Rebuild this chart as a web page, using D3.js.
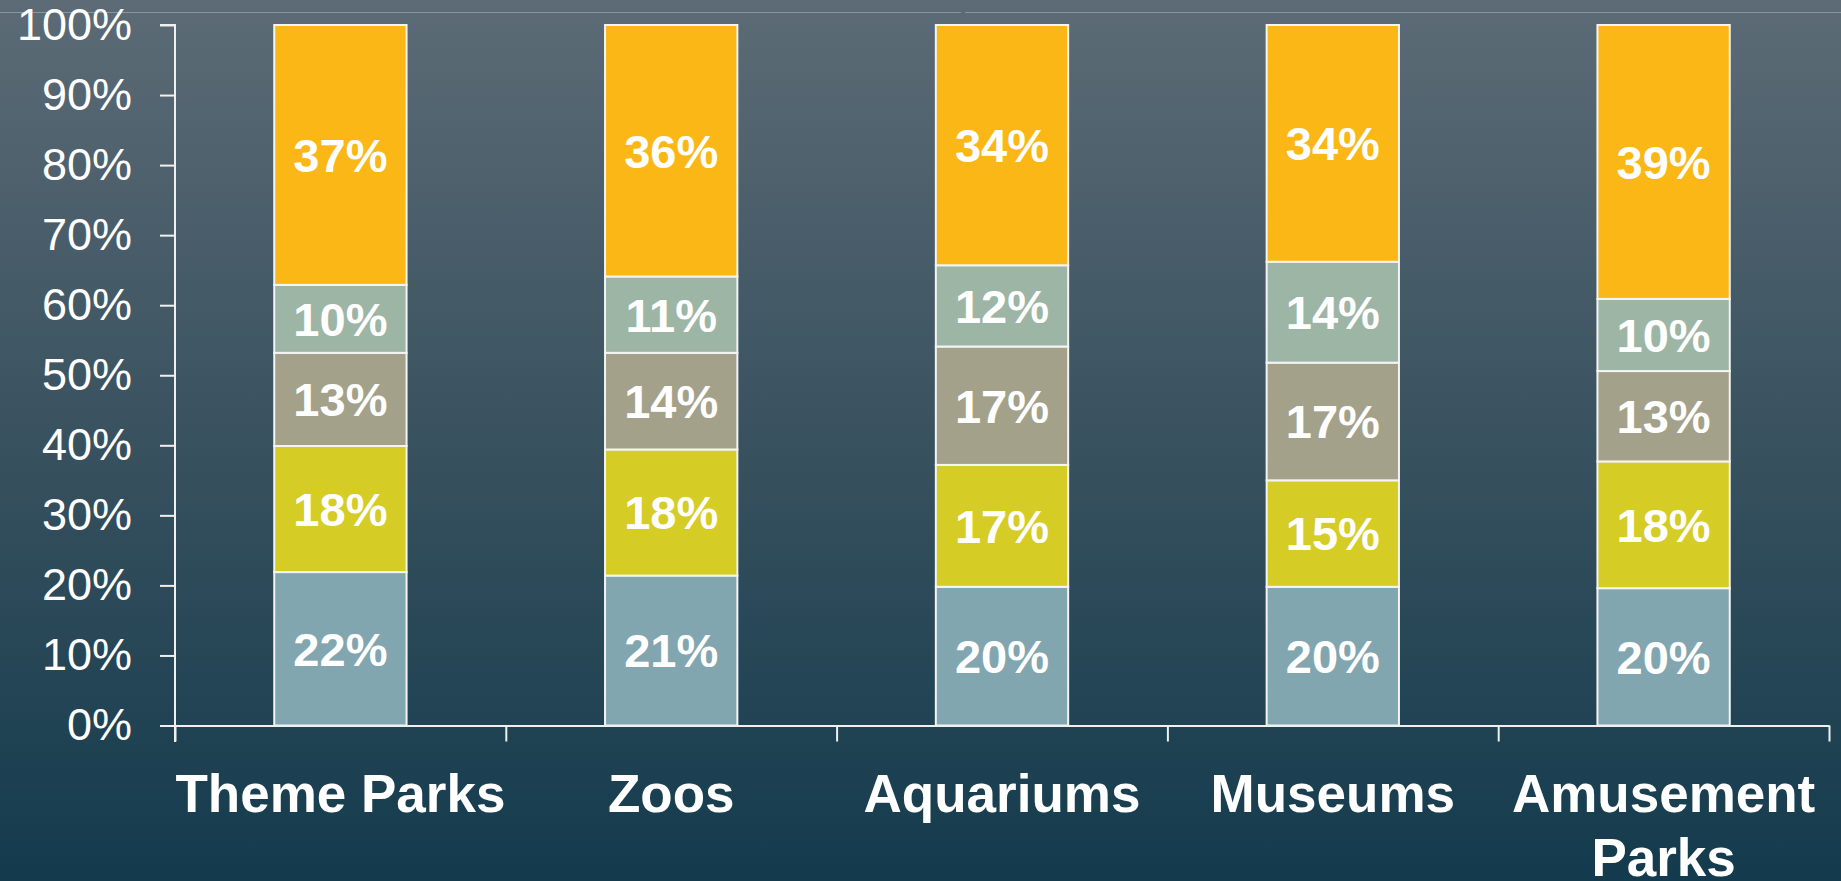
<!DOCTYPE html>
<html>
<head>
<meta charset="utf-8">
<script src="https://cdn.jsdelivr.net/npm/d3@7"></script>
<style>
    html, body { margin: 0; padding: 0; overflow: hidden; }
    body { width: 1841px; height: 881px; }
    svg { display: block; font-family: "Liberation Sans", Arial, sans-serif; }
</style>
</head>
<body>
<div id="chart"></div>
<script>
// categories and stacked shares (percent), bottom to top
const categories = ['Theme Parks', 'Zoos', 'Aquariums', 'Museums', 'Amusement Parks'];
const seriesKeys = ['s1', 's2', 's3', 's4', 's5'];
const s1 = [21.9, 21.4, 19.8, 19.8, 19.6];
const s2 = [18.0, 18.0, 17.4, 15.2, 18.1];
const s3 = [13.3, 13.8, 16.9, 16.8, 12.9];
const s4 = [9.7, 10.9, 11.6, 14.4, 10.3];
const s5 = [37.1, 35.9, 34.3, 33.8, 39.1];
const yTicks = [0, 10, 20, 30, 40, 50, 60, 70, 80, 90, 100];

const colors = {
    s1: '#82a6b0',
    s2: '#d6cc26',
    s3: '#a4a18a',
    s4: '#9db5a5',
    s5: '#fbb715'
};

const width = 1841;
const height = 881;
const margin = { top: 25, right: 12, bottom: 155, left: 175 };

const data = categories.map((c, i) => ({
    category: c, s1: s1[i], s2: s2[i], s3: s3[i], s4: s4[i], s5: s5[i]
}));

const svg = d3.select('#chart')
    .append('svg')
    .attr('width', width)
    .attr('height', height);

// background gradient
const defs = svg.append('defs');
const grad = defs.append('linearGradient')
    .attr('id', 'bg')
    .attr('x1', 0).attr('y1', 0).attr('x2', 0).attr('y2', 1);
grad.append('stop').attr('offset', '0%').attr('stop-color', '#5c6b76');
grad.append('stop').attr('offset', '55%').attr('stop-color', '#354f5d');
grad.append('stop').attr('offset', '100%').attr('stop-color', '#133b4d');

svg.append('rect')
    .attr('width', width)
    .attr('height', height)
    .attr('fill', 'url(#bg)');

// faint rule near the top
svg.append('line')
    .attr('x1', 0).attr('x2', 961).attr('y1', 12.5).attr('y2', 12.5)
    .attr('stroke', '#8a969e').attr('stroke-width', 1);
svg.append('line')
    .attr('x1', 965).attr('x2', width).attr('y1', 12.5).attr('y2', 12.5)
    .attr('stroke', '#8a969e').attr('stroke-width', 1);

const plotRight = 1829;
const plotBottom = 725.5;

const x = d3.scaleBand()
    .domain(categories)
    .range([margin.left, plotRight])
    .padding(0);

const xEdges = d3.scaleLinear()
    .domain([0, categories.length])
    .range([margin.left, plotRight]);

const y = d3.scaleLinear()
    .domain([0, 100])
    .range([plotBottom, margin.top]);

const stack = d3.stack().keys(seriesKeys);
const layers = stack(data);

const barW = x.bandwidth() * 0.4;

const g = svg.append('g');

layers.forEach(layer => {
    const key = layer.key;
    g.selectAll(null)
        .data(layer)
        .enter()
        .append('rect')
        .attr('x', d => x(d.data.category) + (x.bandwidth() - barW) / 2)
        .attr('y', d => y(d[1]))
        .attr('width', barW)
        .attr('height', d => y(d[0]) - y(d[1]))
        .attr('fill', colors[key])
        .attr('stroke', '#f4f4f4')
        .attr('stroke-width', 2);

    g.selectAll(null)
        .data(layer)
        .enter()
        .append('text')
        .attr('x', d => x(d.data.category) + x.bandwidth() / 2)
        .attr('y', d => (y(d[0]) + y(d[1])) / 2)
        .attr('dy', '0.36em')
        .attr('text-anchor', 'middle')
        .attr('fill', '#ffffff')
        .attr('font-weight', 'bold')
        .attr('font-size', 47)
        .text(d => Math.round(d.data[key]) + '%');
});

// y axis
svg.append('g')
    .attr('transform', `translate(${margin.left},0)`)
    .call(d3.axisLeft(y).tickValues(yTicks).tickSize(15).tickPadding(28).tickFormat(d => d + '%'))
    .call(a => a.selectAll('line, path').attr('stroke', '#f0f0f0').attr('stroke-width', 2))
    .call(a => a.select('.domain').attr('d', `M-15,${margin.top}H0V${plotBottom + 16.5}`))
    .call(a => a.selectAll('text')
        .attr('fill', '#ffffff')
        .attr('font-size', 45)
        .attr('font-family', '"Liberation Sans", Arial, sans-serif'));

// x axis with ticks at band edges
svg.append('g')
    .attr('transform', `translate(0,${plotBottom})`)
    .call(d3.axisBottom(xEdges).tickValues(d3.range(categories.length + 1)).tickSize(16).tickSizeOuter(0).tickFormat(''))
    .call(a => a.selectAll('line, path').attr('stroke', '#f0f0f0').attr('stroke-width', 2));

// category labels
const labels = svg.append('g')
    .selectAll('text')
    .data(categories)
    .enter()
    .append('text')
    .attr('text-anchor', 'middle')
    .attr('fill', '#ffffff')
    .attr('font-weight', 'bold')
    .attr('font-size', 53)
    .attr('y', 812);

labels.each(function (d) {
    const words = d === 'Amusement Parks' ? ['Amusement', 'Parks'] : [d];
    const cx = x(d) + x.bandwidth() / 2;
    words.forEach((w, i) => {
        d3.select(this).append('tspan')
            .attr('x', cx)
            .attr('dy', i === 0 ? 0 : 64)
            .text(w);
    });
});
</script>
</body>
</html>
